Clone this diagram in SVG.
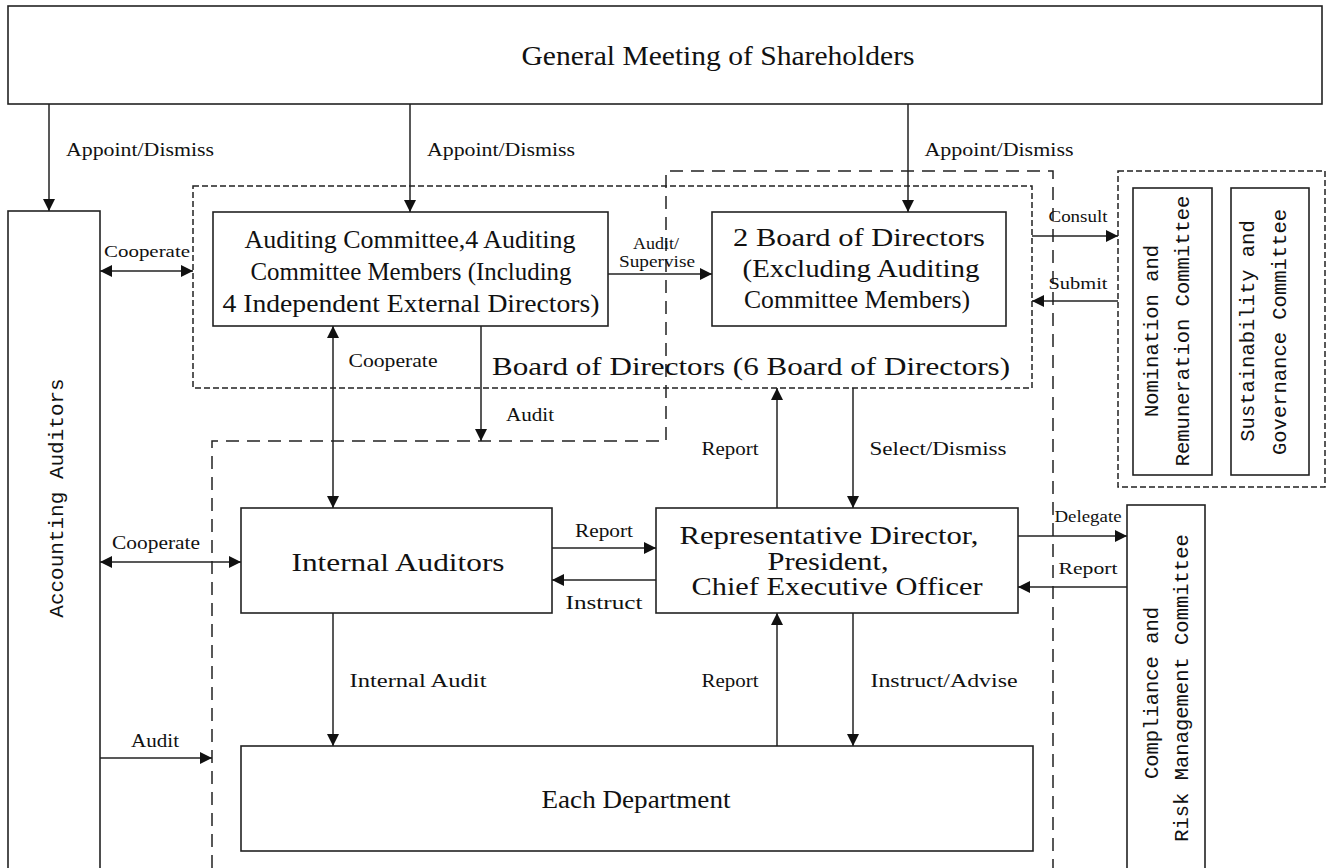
<svg xmlns="http://www.w3.org/2000/svg" width="1330" height="868" viewBox="0 0 1330 868">
<style>
.box{fill:#fff;stroke:#222;stroke-width:1.6}
.dS{fill:none;stroke:#222;stroke-width:1.5;stroke-dasharray:6 3}
.dL{fill:none;stroke:#222;stroke-width:1.5;stroke-dasharray:13 8}
.c{fill:none;stroke:#222;stroke-width:1.5}
.t{font-family:"Liberation Serif",serif;fill:#111;text-anchor:middle}
.n{font-size:25px}
.h{font-size:27px}
.l{font-size:19px}
.s{font-size:17px}
.v{font-family:"Liberation Mono",monospace;fill:#111;text-anchor:middle;font-size:20.5px}
</style>
<defs>
<marker id="a" viewBox="0 0 12 12" refX="12" refY="6" markerWidth="12" markerHeight="12" markerUnits="userSpaceOnUse" orient="auto-start-reverse"><path d="M0,0 L12,6 L0,12 z" fill="#111"/></marker>
</defs>
<rect width="1330" height="868" fill="#fff"/>

<g id="containers">
<path class="dL" d="M212,868 V441 H666 V171 H1053 V868"/>
<rect class="dS" x="193" y="186" width="839" height="202"/>
<rect class="dS" x="1118" y="171" width="207" height="316"/>
<text class="t n" x="751" y="375" textLength="518" lengthAdjust="spacingAndGlyphs">Board of Directors (6 Board of Directors)</text>
</g>

<g id="gms">
<rect class="box" x="8" y="6" width="1314" height="98"/>
<text class="t h" x="718" y="65" textLength="393" lengthAdjust="spacingAndGlyphs">General Meeting of Shareholders</text>
</g>

<g id="accounting">
<rect class="box" x="8" y="211" width="92" height="680"/>
<text class="v" transform="translate(63,498) rotate(-90)" style="font-size:21px">Accounting Auditors</text>
</g>

<g id="auditcommittee">
<rect class="box" x="213" y="212" width="395" height="114"/>
<text class="t n" x="410" y="248" textLength="331" lengthAdjust="spacingAndGlyphs">Auditing Committee,4 Auditing</text>
<text class="t n" x="411" y="280" textLength="321" lengthAdjust="spacingAndGlyphs">Committee Members (Including</text>
<text class="t n" x="411" y="312" textLength="377" lengthAdjust="spacingAndGlyphs">4 Independent External Directors)</text>
</g>

<g id="board2">
<rect class="box" x="712" y="212" width="294" height="114"/>
<text class="t n" x="859" y="246" textLength="252" lengthAdjust="spacingAndGlyphs">2 Board of Directors</text>
<text class="t n" x="861" y="277" textLength="237" lengthAdjust="spacingAndGlyphs">(Excluding Auditing</text>
<text class="t n" x="857" y="308" textLength="226" lengthAdjust="spacingAndGlyphs">Committee Members)</text>
</g>

<g id="nomination">
<rect class="box" x="1133" y="188" width="79" height="287"/>
<text class="v" transform="translate(1158,331) rotate(-90)">Nomination and</text>
<text class="v" transform="translate(1189,331) rotate(-90)">Remuneration Committee</text>
</g>

<g id="sustainability">
<rect class="box" x="1231" y="188" width="78" height="287"/>
<text class="v" transform="translate(1254,331) rotate(-90)">Sustainability and</text>
<text class="v" transform="translate(1286,332) rotate(-90)">Governance Committee</text>
</g>

<g id="internal">
<rect class="box" x="241" y="508" width="311" height="105"/>
<text class="t n" x="398" y="571" textLength="213" lengthAdjust="spacingAndGlyphs">Internal Auditors</text>
</g>

<g id="ceo">
<rect class="box" x="656" y="508" width="362" height="105"/>
<text class="t n" x="829" y="544" textLength="299" lengthAdjust="spacingAndGlyphs">Representative Director,</text>
<text class="t n" x="828" y="570" textLength="121" lengthAdjust="spacingAndGlyphs">President,</text>
<text class="t n" x="837" y="595" textLength="291" lengthAdjust="spacingAndGlyphs">Chief Executive Officer</text>
</g>

<g id="department">
<rect class="box" x="241" y="746" width="792" height="105"/>
<text class="t n" x="636" y="808" textLength="189" lengthAdjust="spacingAndGlyphs">Each Department</text>
</g>

<g id="compliance">
<rect class="box" x="1127" y="505" width="78" height="390"/>
<text class="v" transform="translate(1158,693) rotate(-90)">Compliance and</text>
<text class="v" transform="translate(1188,688) rotate(-90)">Risk Management Committee</text>
</g>

<g id="connectors">
<path class="c" d="M49,104 V211" marker-end="url(#a)"/>
<path class="c" d="M410,104 V212" marker-end="url(#a)"/>
<path class="c" d="M908,104 V212" marker-end="url(#a)"/>
<path class="c" d="M100,271 H193" marker-start="url(#a)" marker-end="url(#a)"/>
<path class="c" d="M608,274 H712" marker-end="url(#a)"/>
<path class="c" d="M1032,236 H1118" marker-end="url(#a)"/>
<path class="c" d="M1118,301 H1032" marker-end="url(#a)"/>
<path class="c" d="M333,326 V508" marker-start="url(#a)" marker-end="url(#a)"/>
<path class="c" d="M481,326 V441" marker-end="url(#a)"/>
<path class="c" d="M777,508 V388" marker-end="url(#a)"/>
<path class="c" d="M853,388 V508" marker-end="url(#a)"/>
<path class="c" d="M100,562 H241" marker-start="url(#a)" marker-end="url(#a)"/>
<path class="c" d="M552,548 H656" marker-end="url(#a)"/>
<path class="c" d="M656,580 H552" marker-end="url(#a)"/>
<path class="c" d="M333,613 V746" marker-end="url(#a)"/>
<path class="c" d="M777,746 V613" marker-end="url(#a)"/>
<path class="c" d="M853,613 V746" marker-end="url(#a)"/>
<path class="c" d="M100,758 H212" marker-end="url(#a)"/>
<path class="c" d="M1018,536 H1127" marker-end="url(#a)"/>
<path class="c" d="M1127,587 H1018" marker-end="url(#a)"/>

<text class="t l" x="140" y="156" textLength="148" lengthAdjust="spacingAndGlyphs">Appoint/Dismiss</text>
<text class="t l" x="501" y="156" textLength="148" lengthAdjust="spacingAndGlyphs">Appoint/Dismiss</text>
<text class="t l" x="999" y="156" textLength="149" lengthAdjust="spacingAndGlyphs">Appoint/Dismiss</text>
<text class="t s" x="147" y="257" textLength="86" lengthAdjust="spacingAndGlyphs">Cooperate</text>
<text class="t s" x="656" y="249" textLength="46" lengthAdjust="spacingAndGlyphs">Audit/</text>
<text class="t s" x="657" y="267" textLength="76" lengthAdjust="spacingAndGlyphs">Supervise</text>
<text class="t s" x="1078" y="222" textLength="59" lengthAdjust="spacingAndGlyphs">Consult</text>
<text class="t s" x="1078" y="289" textLength="59" lengthAdjust="spacingAndGlyphs">Submit</text>
<text class="t l" x="393" y="367" textLength="89" lengthAdjust="spacingAndGlyphs">Cooperate</text>
<text class="t l" x="530" y="421" textLength="48" lengthAdjust="spacingAndGlyphs">Audit</text>
<text class="t l" x="730" y="455" textLength="57" lengthAdjust="spacingAndGlyphs">Report</text>
<text class="t l" x="938" y="455" textLength="137" lengthAdjust="spacingAndGlyphs">Select/Dismiss</text>
<text class="t l" x="156" y="549" textLength="88" lengthAdjust="spacingAndGlyphs">Cooperate</text>
<text class="t l" x="604" y="537" textLength="58" lengthAdjust="spacingAndGlyphs">Report</text>
<text class="t l" x="604" y="609" textLength="77" lengthAdjust="spacingAndGlyphs">Instruct</text>
<text class="t l" x="418" y="687" textLength="137" lengthAdjust="spacingAndGlyphs">Internal Audit</text>
<text class="t l" x="730" y="687" textLength="57" lengthAdjust="spacingAndGlyphs">Report</text>
<text class="t l" x="944" y="687" textLength="147" lengthAdjust="spacingAndGlyphs">Instruct/Advise</text>
<text class="t l" x="155" y="747" textLength="48" lengthAdjust="spacingAndGlyphs">Audit</text>
<text class="t s" x="1088" y="522" textLength="67" lengthAdjust="spacingAndGlyphs">Delegate</text>
<text class="t s" x="1088" y="574" textLength="59" lengthAdjust="spacingAndGlyphs">Report</text>
</g>
</svg>
